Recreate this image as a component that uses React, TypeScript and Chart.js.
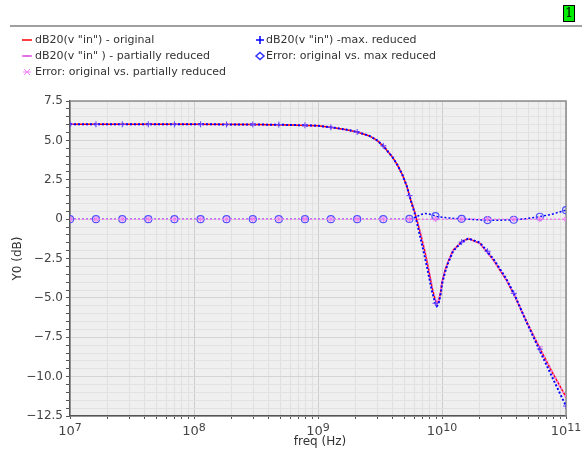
import React, { useEffect, useRef } from "react";
import { Chart, registerables } from "chart.js";
Chart.register(...registerables);

// ---- data (frequency in Hz, magnitudes in dB) ----
const CURVE_FREQ_HZ = [
  1e7, 1e8, 3e8, 6e8, 1e9, 1.3e9, 1.7e9, 2.1e9, 2.6e9, 3.0e9, 3.4e9, 4.0e9, 4.4e9, 4.8e9, 5.2e9,
  5.6e9, 6.0e9, 6.4e9, 6.8e9, 7.3e9, 7.8e9, 8.3e9, 8.8e9, 9.1e9, 9.4e9, 9.8e9, 1.0e10, 1.06e10,
  1.12e10, 1.23e10, 1.44e10, 1.63e10, 2.02e10, 2.6e10, 3.3e10, 3.9e10, 4.67e10, 5.75e10, 7.6e10, 1e11,
];
const ORIGINAL_DB = [
  6.02, 6.02, 6.01, 5.98, 5.93, 5.82, 5.68, 5.52, 5.28, 5.0, 4.6, 3.92, 3.4, 2.8, 2.1,
  1.2, 0.5, -0.3, -1.1, -2.1, -3.2, -4.3, -5.1, -5.35, -5.2, -4.55, -4.0, -3.24,
  -2.7, -1.97, -1.44, -1.23, -1.54, -2.6, -3.85, -4.95, -6.3, -7.75, -9.6, -11.3,
];
const PARTIAL_DB = [
  6.02, 6.02, 6.01, 5.98, 5.93, 5.82, 5.68, 5.52, 5.28, 5.0, 4.6, 3.92, 3.4, 2.8, 2.1,
  1.2, 0.5, -0.3, -1.1, -2.1, -3.2, -4.3, -5.1, -5.35, -5.2, -4.55, -4.0, -3.24,
  -2.7, -1.97, -1.44, -1.23, -1.54, -2.6, -3.85, -4.95, -6.3, -7.75, -9.6, -11.3,
];
const MAX_REDUCED_DB = [
  6.02, 6.02, 6.01, 5.98, 5.93, 5.82, 5.68, 5.52, 5.28, 5.0, 4.6, 3.92, 3.4, 2.8, 2.1,
  1.18, 0.42, -0.5, -1.4, -2.46, -3.53, -4.57, -5.3, -5.52, -5.35, -4.68, -4.12, -3.34,
  -2.78, -2.02, -1.46, -1.23, -1.49, -2.53, -3.79, -4.91, -6.32, -7.87, -9.9, -11.87,
];
const ERR_MAX_DB = [
  0, 0, 0, 0, 0, 0, 0, 0, 0, 0, 0, 0, 0, 0, 0,
  0.02, 0.08, 0.2, 0.3, 0.36, 0.33, 0.27, 0.2, 0.17, 0.15, 0.13, 0.12, 0.1,
  0.08, 0.05, 0.02, 0, -0.05, -0.07, -0.06, -0.04, 0.02, 0.12, 0.3, 0.57,
];
const ERR_PARTIAL_DB = [
  0, 0, 0, 0, 0, 0, 0, 0, 0, 0, 0, 0, 0, 0, 0,
  0, 0, 0, 0, 0, 0, 0, 0, 0, 0, 0, 0, 0,
  0, 0, 0, 0, 0, 0, 0, 0, 0, 0, 0, 0,
];

const MARKER_FREQ_HZ = [
  1e7, 1.62e7, 2.64e7, 4.28e7, 6.95e7, 1.13e8, 1.83e8, 2.98e8, 4.83e8, 7.85e8,
  1.27e9, 2.07e9, 3.36e9, 5.46e9, 8.85e9, 1.44e10, 2.33e10, 3.79e10, 6.15e10, 1e11,
];
const PARTIAL_MARK_DB = [
  6.02, 6.02, 6.02, 6.02, 6.02, 6.02, 6.01, 6.01, 6.0, 5.96,
  5.83, 5.53, 4.65, 1.5, -5.15, -1.44, -2.1, -4.75, -8.1, -11.3,
];
const MAX_MARK_DB = [
  6.02, 6.02, 6.02, 6.02, 6.02, 6.02, 6.01, 6.01, 6.0, 5.96,
  5.83, 5.53, 4.65, 1.49, -5.34, -1.46, -2.04, -4.71, -8.25, -11.87,
];
const ERR_MAX_MARK_DB = [
  0, 0, 0, 0, 0, 0, 0, 0, 0, 0,
  0, 0, 0, 0.01, 0.19, 0.02, -0.06, -0.04, 0.15, 0.57,
];
const ERR_PARTIAL_MARK_DB = [
  0, 0, 0, 0, 0, 0, 0, 0, 0, 0,
  0, 0, 0, 0, 0, 0, 0, 0, 0, 0,
];

const X_DECADES = [7, 8, 9, 10, 11];
const Y_MAJOR_VALUES = [7.5, 5, 2.5, 0, -2.5, -5, -7.5, -10, -12.5];
const Y_MAJOR_LABELS = ["7.5", "5.0", "2.5", "0", "\u22122.5", "\u22125.0", "\u22127.5", "\u221210.0", "\u221212.5"];

const LEGEND_ITEMS = [
  { label: 'dB20(v "in") - original', color: "#ff0000", icon: "line", col: 0, row: 0 },
  { label: 'dB20(v "in" ) - partially reduced', color: "#f080f0", icon: "dash", col: 0, row: 1 },
  { label: "Error: original vs. partially reduced", color: "#f080f0", icon: "star", col: 0, row: 2 },
  { label: 'dB20(v "in") -max. reduced', color: "#0000ff", icon: "cross", col: 1, row: 0 },
  { label: "Error: original vs. max reduced", color: "#3030ff", icon: "circle", col: 1, row: 1 },
];

const RED = "#ff0000";
const PINK = "#f080f0";
const BLUE = "#0000ff";
const FONT = '"DejaVu Sans", sans-serif';

const pts = (xs: number[], ys: number[]) => xs.map((x, i) => ({ x, y: ys[i] }));
const isDecade = (v: number) => Math.abs(Math.log10(v) - Math.round(Math.log10(v))) < 1e-6;

const decorPlugin = {
  id: "decor",
  beforeDraw(chart: any) {
    const { ctx, chartArea: a } = chart;
    ctx.save();
    ctx.fillStyle = "#ffffff";
    ctx.fillRect(0, 0, chart.width, chart.height);
    ctx.fillStyle = "#efefef";
    ctx.fillRect(a.left, a.top, a.right - a.left, a.bottom - a.top);
    ctx.restore();
  },
  beforeDatasetsDraw(chart: any) {
    const { ctx, chartArea: a } = chart;
    ctx.save();
    ctx.strokeStyle = "#8c8c8c";
    ctx.lineWidth = 1.5;
    ctx.beginPath();
    ctx.moveTo(a.left, a.top);
    ctx.lineTo(a.right, a.top);
    ctx.lineTo(a.right, a.bottom);
    ctx.stroke();
    ctx.restore();
  },
  afterDraw(chart: any) {
    const { ctx, chartArea: a } = chart;
    ctx.save();
    // top separator & page tab
    ctx.strokeStyle = "#a0a0a0";
    ctx.lineWidth = 2;
    ctx.beginPath();
    ctx.moveTo(10, 26);
    ctx.lineTo(582, 26);
    ctx.stroke();
    ctx.fillStyle = "#00ee00";
    ctx.fillRect(563, 5, 11, 16);
    ctx.strokeStyle = "#000";
    ctx.lineWidth = 1;
    ctx.strokeRect(563.5, 5.5, 11, 16);
    ctx.fillStyle = "#000";
    ctx.font = '12px "DejaVu Serif", serif';
    ctx.textAlign = "center";
    ctx.textBaseline = "middle";
    ctx.fillText("1", 569, 14);

    // x tick labels 10^n
    const xs = chart.scales.x;
    for (const e of X_DECADES) {
      const px = xs.getPixelForValue(Math.pow(10, e));
      ctx.font = `13px ${FONT}`;
      const wb = ctx.measureText("10").width;
      ctx.font = `11px ${FONT}`;
      const ws = ctx.measureText(String(e)).width;
      const left = px - (wb + ws) / 2;
      ctx.fillStyle = "#444";
      ctx.textAlign = "left";
      ctx.textBaseline = "alphabetic";
      ctx.font = `13px ${FONT}`;
      ctx.fillText("10", left, 435);
      ctx.font = `11px ${FONT}`;
      ctx.fillText(String(e), left + wb, 431);
    }

    // axis titles
    ctx.fillStyle = "#333";
    ctx.font = `12px ${FONT}`;
    ctx.textAlign = "center";
    ctx.textBaseline = "middle";
    ctx.fillText("freq (Hz)", (a.left + a.right) / 2 + 2, 442);
    ctx.save();
    ctx.translate(18, (a.top + a.bottom) / 2);
    ctx.rotate(-Math.PI / 2);
    ctx.fillText("Y0 (dB)", 0, 0);
    ctx.restore();

    // legend
    const colX = [22, 256];
    const rowY = [40, 56, 72];
    ctx.font = `11px ${FONT}`;
    for (const it of LEGEND_ITEMS) {
      const x = colX[it.col];
      const y = rowY[it.row];
      ctx.strokeStyle = it.color;
      ctx.fillStyle = it.color;
      ctx.lineWidth = 1.5;
      ctx.beginPath();
      if (it.icon === "line") {
        ctx.moveTo(x, y);
        ctx.lineTo(x + 10, y);
      } else if (it.icon === "dash") {
        ctx.lineWidth = 2;
        ctx.moveTo(x, y);
        ctx.lineTo(x + 10, y);
        ctx.stroke();
        ctx.beginPath();
        ctx.lineWidth = 1;
        ctx.strokeStyle = "#d060d0";
        ctx.moveTo(x + 2, y);
        ctx.lineTo(x + 8, y);
      } else if (it.icon === "star") {
        const cx = x + 5;
        ctx.lineWidth = 1;
        ctx.moveTo(cx - 4, y);
        ctx.lineTo(cx + 4, y);
        ctx.moveTo(cx - 3, y - 3);
        ctx.lineTo(cx + 3, y + 3);
        ctx.moveTo(cx - 3, y + 3);
        ctx.lineTo(cx + 3, y - 3);
      } else if (it.icon === "cross") {
        const cx = x + 4;
        ctx.moveTo(cx - 4, y);
        ctx.lineTo(cx + 4, y);
        ctx.moveTo(cx, y - 4);
        ctx.lineTo(cx, y + 4);
      } else if (it.icon === "circle") {
        const cx = x + 4;
        ctx.moveTo(cx - 4, y);
        ctx.lineTo(cx, y - 3.5);
        ctx.lineTo(cx + 4, y);
        ctx.lineTo(cx, y + 3.5);
        ctx.closePath();
      }
      ctx.stroke();
      ctx.fillStyle = "#333";
      ctx.textAlign = "left";
      ctx.textBaseline = "middle";
      ctx.fillText(it.label, it.col === 0 ? x + 13 : x + 10, y + 0.5);
    }
    ctx.restore();
  },
};

export default function App() {
  const ref = useRef<HTMLCanvasElement | null>(null);
  useEffect(() => {
    if (!ref.current) return;
    const lineBase = { pointRadius: 0, fill: false, tension: 0, showLine: true };
    const markBase = { showLine: false, pointBorderWidth: 1, pointHoverRadius: 0 };
    const chart = new Chart(ref.current, {
      type: "line",
      data: {
        datasets: [
          {
            ...markBase,
            data: pts(MARKER_FREQ_HZ, ERR_PARTIAL_MARK_DB),
            pointStyle: "star",
            pointRadius: 3,
            borderColor: PINK,
            backgroundColor: PINK,
          },
          {
            ...lineBase,
            data: pts(CURVE_FREQ_HZ, ERR_PARTIAL_DB),
            borderColor: PINK,
            borderWidth: 1.5,
            borderDash: [2, 2],
          },
          {
            ...markBase,
            data: pts(MARKER_FREQ_HZ, ERR_MAX_MARK_DB),
            pointStyle: "circle",
            pointRadius: 3.5,
            pointBorderWidth: 1.2,
            borderColor: "#5050ff",
            backgroundColor: "rgba(255,255,255,0)",
          },
          {
            ...lineBase,
            data: pts(CURVE_FREQ_HZ, ERR_MAX_DB),
            borderColor: BLUE,
            borderWidth: 1.5,
            borderDash: [2, 2],
          },
          {
            ...markBase,
            data: pts(MARKER_FREQ_HZ, MAX_MARK_DB),
            pointStyle: "cross",
            pointRadius: 3,
            borderColor: "#6040ff",
            backgroundColor: BLUE,
          },
          {
            ...lineBase,
            data: pts(CURVE_FREQ_HZ, MAX_REDUCED_DB),
            borderColor: BLUE,
            borderWidth: 2,
            borderDash: [2, 2],
          },
          {
            ...markBase,
            data: pts(MARKER_FREQ_HZ, PARTIAL_MARK_DB),
            pointStyle: "dash",
            pointRadius: 3,
            borderColor: PINK,
            backgroundColor: PINK,
          },
          {
            ...lineBase,
            data: pts(CURVE_FREQ_HZ, PARTIAL_DB),
            borderColor: PINK,
            borderWidth: 2,
            borderDash: [2, 2],
          },
          {
            ...lineBase,
            data: pts(CURVE_FREQ_HZ, ORIGINAL_DB),
            borderColor: RED,
            borderWidth: 1.5,
          },
        ],
      },
      options: {
        animation: false,
        responsive: false,
        devicePixelRatio: 1,
        events: [],
        layout: { padding: { top: 101, right: 16, left: 0, bottom: 0 } },
        plugins: { legend: { display: false }, tooltip: { enabled: false }, title: { display: false } },
        scales: {
          x: {
            type: "logarithmic",
            min: 1e7,
            max: 1e11,
            afterBuildTicks: (s: any) => {
              const t: any[] = [];
              for (let i = 0; i < X_DECADES.length - 1; i++) {
                for (let k = 1; k <= 9; k++) t.push({ value: k * Math.pow(10, X_DECADES[i]) });
              }
              t.push({ value: Math.pow(10, X_DECADES[X_DECADES.length - 1]) });
              s.ticks = t;
            },
            afterFit: (s: any) => {
              s.height = 39;
            },
            ticks: { display: false, autoSkip: false },
            grid: {
              color: (c: any) => (c.tick && isDecade(c.tick.value) ? "#cfcfcf" : "#e0e0e0"),
              lineWidth: 1,
              tickLength: 3,
              tickColor: "#555",
              drawTicks: true,
            },
            border: { display: true, color: "#555", width: 1.5 },
          },
          y: {
            type: "linear",
            min: -12.5,
            max: 7.5,
            afterBuildTicks: (s: any) => {
              const t: any[] = [];
              for (let v = -12.5; v <= 7.5 + 1e-9; v += 0.5) t.push({ value: v });
              s.ticks = t;
            },
            afterFit: (s: any) => {
              s.width = 70;
            },
            ticks: {
              autoSkip: false,
              padding: 3,
              color: "#444",
              font: { family: FONT, size: 12 },
              callback: (v: any) => {
                const idx = Y_MAJOR_VALUES.findIndex((m) => Math.abs(m - Number(v)) < 1e-6);
                return idx >= 0 ? Y_MAJOR_LABELS[idx] : "";
              },
            },
            grid: {
              color: (c: any) => {
                const v = c.tick ? c.tick.value : 0;
                return Y_MAJOR_VALUES.some((m) => Math.abs(m - v) < 1e-6) ? "#d4d4d4" : "#e2e2e2";
              },
              lineWidth: 1,
              tickLength: 4,
              tickColor: "#555",
              drawTicks: true,
            },
            border: { display: true, color: "#555", width: 1.5 },
          },
        },
      },
      plugins: [decorPlugin],
    } as any);
    return () => chart.destroy();
  }, []);
  return (
    <div style={{ position: "fixed", left: 0, top: 0, width: 582, height: 455, background: "#fff" }}>
      <canvas ref={ref} width={582} height={455} style={{ display: "block" }} />
    </div>
  );
}
